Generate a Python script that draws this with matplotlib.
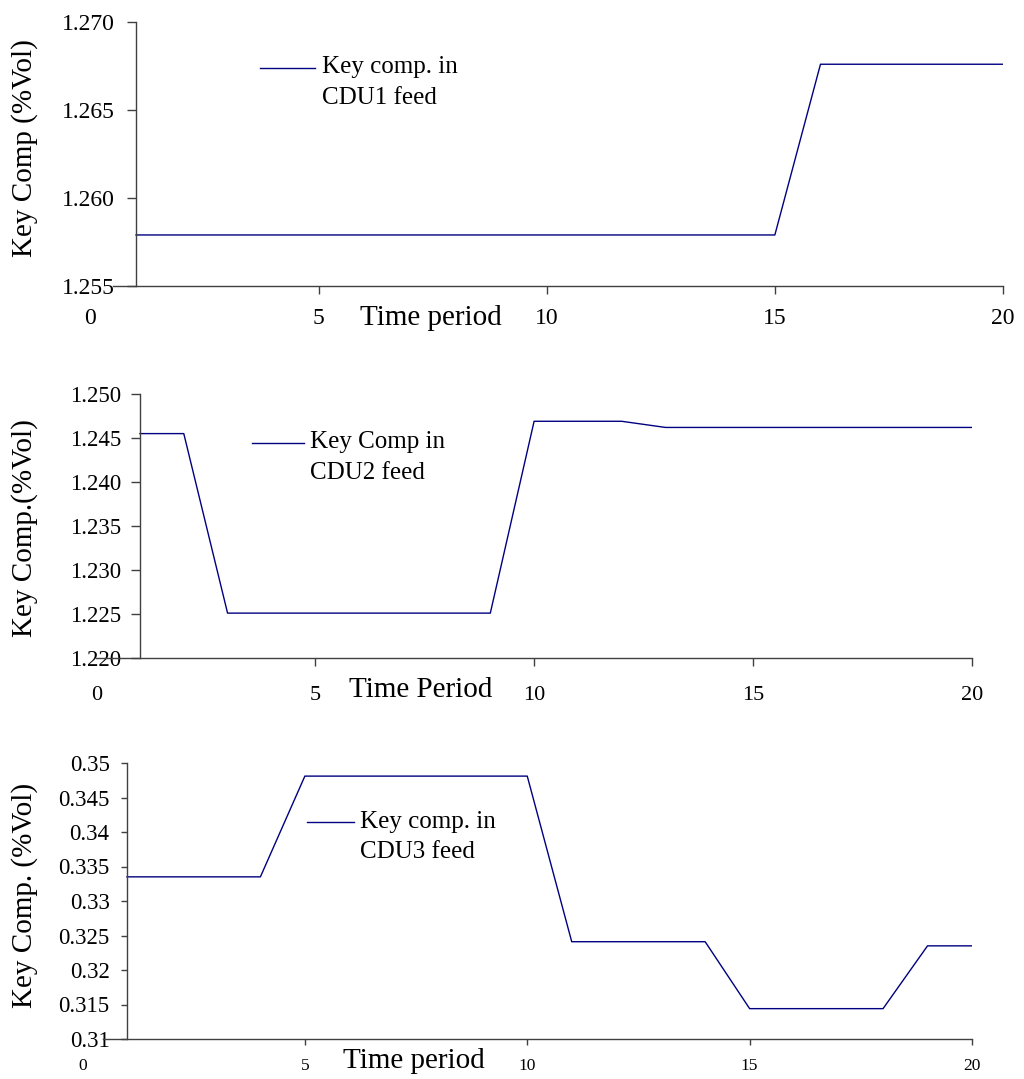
import matplotlib
matplotlib.use("Agg")
import matplotlib.pyplot as plt
from matplotlib.lines import Line2D

plt.rcParams['font.family'] = ['Liberation Serif', 'DejaVu Serif']

# datos
periodos = list(range(1, 21))
cdu1 = [1.2579] * 15 + [1.2676] * 5
cdu2 = [1.2455] * 2 + [1.2251] * 7 + [1.2469] * 3 + [1.2462] * 8
cdu3 = [0.3335] * 4 + [0.3481] * 6 + [0.3241] * 4 + [0.3144] * 4 + [0.3235] * 2

xticks = [0, 5, 10, 15, 20]
yticks1 = [1.255, 1.260, 1.265, 1.270]
yticks2 = [1.220, 1.225, 1.230, 1.235, 1.240, 1.245, 1.250]
yticks3 = [0.31, 0.315, 0.32, 0.325, 0.33, 0.335, 0.34, 0.345, 0.35]
ylabels3 = ['0.31', '0.315', '0.32', '0.325', '0.33', '0.335', '0.34', '0.345', '0.35']

W, H = 1024, 1079
fig = plt.figure(figsize=(W / 100, H / 100), dpi=100)


def fx(x):
    return x / W


def fy(y):
    return 1 - y / H


def panel(rect, serie, yticks, ylabels, ylim, xbound_lo, tfs_x, tfs_y, pad_x, pad_y,
          tlen_x, tlen_y):
    ax = fig.add_axes(rect)
    ax.plot(periodos, serie, color='#000080', lw=1.0)
    ax.set_xlim(0, 20)
    ax.set_ylim(*ylim)
    for s in ['top', 'right']:
        ax.spines[s].set_visible(False)
    # el eje y se cruza en el periodo 1, como en el original
    ax.spines['left'].set_position(('data', 1))
    ax.spines['bottom'].set_bounds(xbound_lo, 20)
    for s in ['left', 'bottom']:
        ax.spines[s].set_color('#404040')
        ax.spines[s].set_linewidth(1.0)
    ax.set_xticks(xticks)
    ax.set_xticklabels([str(t) for t in xticks])
    ax.set_yticks(yticks)
    ax.set_yticklabels(ylabels)
    ax.tick_params(axis='x', direction='out', length=tlen_x, width=1, color='#404040',
                   labelsize=tfs_x, pad=pad_x)
    ax.tick_params(axis='y', direction='out', length=tlen_y, width=1, color='#404040',
                   labelsize=tfs_y, pad=pad_y)
    ax.xaxis.get_major_ticks()[0].tick1line.set_visible(False)
    ax.patch.set_visible(False)
    return ax


def leyenda(x0, x1, y, xt, y1, y2, linea1, linea2):
    fig.add_artist(Line2D([fx(x0), fx(x1)], [fy(y), fy(y)], color='#000080', lw=1.0,
                          transform=fig.transFigure))
    fig.text(fx(xt), fy(y1), linea1, fontsize=18, ha='left', va='center')
    fig.text(fx(xt), fy(y2), linea2, fontsize=18, ha='left', va='center')


# panel 1
ax1 = panel([fx(90.4), fy(286), (1003 - 90.4) / W, 264 / H], cdu1, yticks1,
            ['%.3f' % v for v in yticks1], (1.255, 1.270), 0.5, 17, 17, 10, 8.5, 6, 6.5)
fig.text(fx(431), fy(318), 'Time period', fontsize=21, ha='center', va='center')
fig.text(fx(25), fy(148), 'Key Comp (%Vol)', fontsize=21, rotation=90,
         ha='center', va='center')
leyenda(260, 315, 68, 322, 67, 98, 'Key comp. in', 'CDU1 feed')

# panel 2
ax2 = panel([fx(96.2), fy(658), (972 - 96.2) / W, 264 / H], cdu2, yticks2,
            ['%.3f' % v for v in yticks2], (1.220, 1.250), 0.0, 16, 16.5, 14, 7, 6, 6.5)
fig.text(fx(421), fy(690), 'Time Period', fontsize=21, ha='center', va='center')
fig.text(fx(25), fy(528), 'Key Comp.(%Vol)', fontsize=21, rotation=90,
         ha='center', va='center')
leyenda(252, 304, 443, 310, 442, 473, 'Key Comp in', 'CDU2 feed')

# panel 3
ax3 = panel([fx(82.5), fy(1039), (972 - 82.5) / W, 276 / H], cdu3, yticks3,
            ylabels3, (0.31, 0.35), 0.46, 12.5, 16.5, 10, 8, 4, 4.5)
fig.text(fx(414), fy(1061), 'Time period', fontsize=21, ha='center', va='center')
fig.text(fx(25), fy(895), 'Key Comp. (%Vol)', fontsize=21, rotation=90,
         ha='center', va='center')
leyenda(307, 354, 822, 360, 822, 852, 'Key comp. in', 'CDU3 feed')

fig.savefig('out.png', dpi=100)
